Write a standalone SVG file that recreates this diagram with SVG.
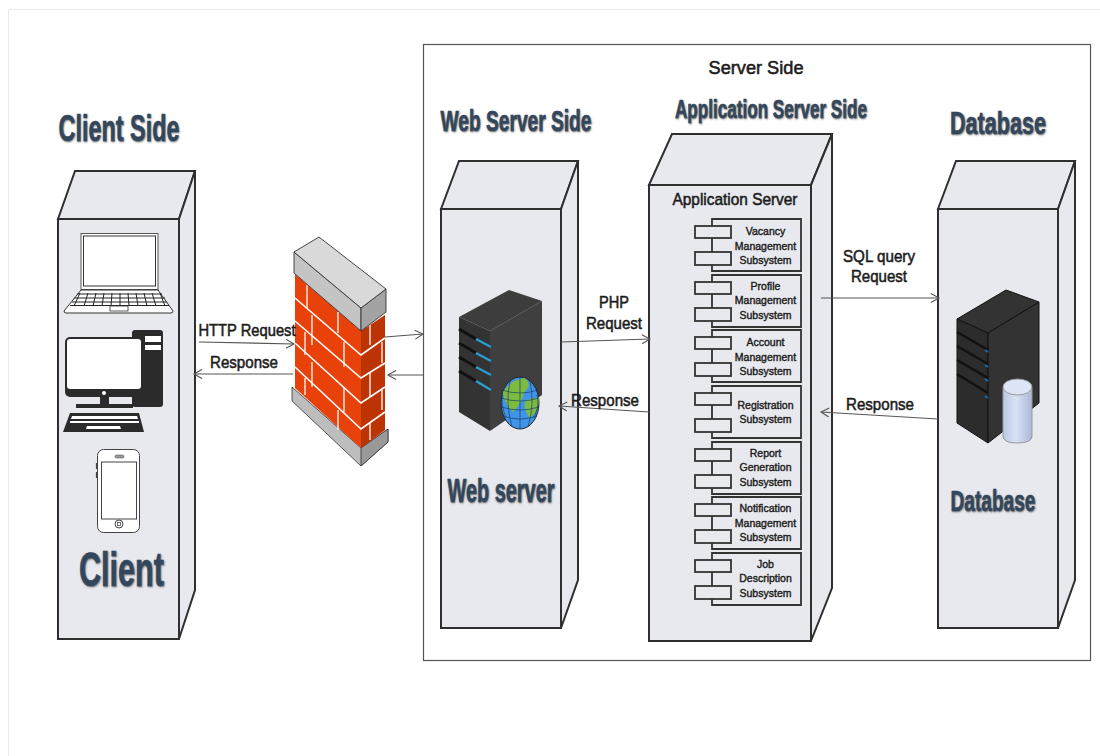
<svg xmlns="http://www.w3.org/2000/svg" width="1100" height="756" viewBox="0 0 1100 756">
<style>
text{font-family:"Liberation Sans",Arial,sans-serif;text-anchor:middle;fill:#1c1c1c}
.title{font-weight:700;fill:#33485f;stroke:#33485f;stroke-width:.6;text-shadow:1px 1px 2px rgba(60,60,60,.6)}
.lbl{font-size:17px;stroke:#1c1c1c;stroke-width:.55}
.sub{font-size:10.500px;stroke:#1c1c1c;stroke-width:.4}
.box{fill:#e8e9ee;stroke:#2f2f2f;stroke-width:2;stroke-linejoin:miter}
.comp{fill:#e8e9ee;stroke:#333;stroke-width:1.8}
.conn{fill:none;stroke:#555;stroke-width:1.2;marker-end:url(#open)}
.m{stroke:#fff;stroke-width:1.6;fill:none}
.k{stroke:#222;stroke-width:1;fill:none}
</style>
<defs>
<marker id="open" markerUnits="userSpaceOnUse" markerWidth="12" markerHeight="12" refX="9" refY="5" orient="auto">
<path d="M1 .5L9 5L1 9.5" fill="none" stroke="#555" stroke-width="1.1"/>
</marker>
<symbol id="c" overflow="visible">
<path class="comp" d="M0 0H89V52H0Z"/>
<rect class="comp" x="-17" y="7" width="36" height="12"/>
<rect class="comp" x="-17" y="33" width="36" height="13"/>
</symbol>
<linearGradient id="cyl" x1="0" x2="1" y1="0" y2="0"><stop offset="0" stop-color="#b9c8e4"/><stop offset=".45" stop-color="#d8e2f4"/><stop offset="1" stop-color="#aab8d6"/></linearGradient>
</defs>
<rect width="1100" height="756" fill="#fff"/>
<path d="M8.500 756V9.500H1100" fill="none" stroke="#e9e9e9"/>
<rect id="server-side" x="423.500" y="44.500" width="667" height="616" fill="none" stroke="#555" stroke-width="1.200"/>
<text class="lbl" x="756" y="74" font-size="18" style="font-size:18px" textLength="95" lengthAdjust="spacingAndGlyphs">Server Side</text>

<g id="client-node">
<path class="box" d="M58 219L75 171H195L179 219Z"/>
<path class="box" d="M179 219L195 171V590L179 639Z"/>
<rect class="box" x="58" y="219" width="121" height="420"/>
<text class="title" x="119" y="141" font-size="37" textLength="121" lengthAdjust="spacingAndGlyphs">Client Side</text>
<g id="laptop">
<rect x="81" y="233.500" width="77" height="56" fill="#fff" stroke="#555" stroke-width="1"/>
<rect x="83.500" y="236" width="72" height="50" fill="#fff" stroke="#333" stroke-width="1"/>
<path d="M81 290H158L173 311Q173 313 171 313H66Q64 313 64 311Z" fill="#fff" stroke="#333"/>
<path class="k" d="M77 294H162M74 298H165M72 302H167M70 305.500H169M80 293L74 306M88 293L84 306M96 293L93 306M104 293L102 306M112 293L111 306M120 293V306M128 293L129 306M136 293L138 306M144 293L147 306M152 293L156 306M160 293L165 306"/>
<rect x="110" y="306" width="18" height="5" fill="#fff" stroke="#333" stroke-width=".8"/>
</g>
<g id="desktop">
<rect x="132" y="330" width="31" height="77" rx="3" fill="#2b2b2b"/>
<rect x="145" y="336" width="16" height="6" fill="#fff"/>
<rect x="145" y="345" width="16" height="5" fill="#fff"/>
<rect x="65" y="337" width="78" height="60" rx="5" fill="#2b2b2b"/>
<rect x="67" y="339" width="74" height="50" rx="3" fill="#fff"/>
<circle cx="104" cy="393" r="2" fill="#fff"/>
<rect x="100" y="397" width="9" height="8" fill="#2b2b2b"/>
<rect x="76" y="404" width="57" height="4" fill="#2b2b2b"/>
<path d="M70 413H139L144 432H63Z" fill="#2b2b2b"/>
<path d="M72 416H137L138 419H71ZM70 421H139L139 423H70ZM87 426H120L121 429H86Z" fill="#fff"/>
</g>
<g id="phone">
<rect x="97.500" y="449.500" width="42" height="83" rx="6" fill="#fff" stroke="#444"/>
<rect x="101.500" y="462" width="35" height="57" fill="#fff" stroke="#444"/>
<rect x="115" y="455" width="9" height="3" rx="1.500" fill="#999" stroke="#444" stroke-width=".5"/>
<circle cx="119" cy="524" r="4" fill="#fff" stroke="#444"/>
<rect x="117.500" y="522.500" width="3" height="3" fill="none" stroke="#444" stroke-width=".8"/>
<path d="M96.500 463V469M96.500 472V478" stroke="#444" stroke-width="1.200"/>
</g>
<text class="title" x="121.500" y="586" font-size="48" textLength="85" lengthAdjust="spacingAndGlyphs">Client</text>
</g>

<g id="firewall">
<path d="M292 387L361 448L388 429V442L361 466L292 401Z" fill="#bdbdbd" stroke="#333" stroke-width=".8"/>
<path d="M361 448L388 429V442L361 466Z" fill="#999" stroke="#333" stroke-width=".8"/>
<path d="M295 274L361 331V448L295 388Z" fill="#e8420a"/>
<path d="M361 331L385 315V430L361 448Z" fill="#bc3403"/>
<path class="m" d="M295 298L361 355L385 338M295 321L361 378L385 363M295 343L361 403L385 387M295 367L361 429L385 412"/>
<path class="m" stroke-opacity=".8" d="M307 285V308M338 312V333M312 315V345M305 332V355M344 342V367M312 362V387M305 378V395M344 388V412M338 410V430M370 325V345M382 342V363M370 373V397M382 390V410M370 422V440"/>
<path d="M294 252L361 308V331L294 273Z" fill="#c4c4c4" stroke="#333" stroke-width=".9"/>
<path d="M361 308L386 289V312L361 331Z" fill="#a3a3a3" stroke="#333" stroke-width=".9"/>
<path d="M294 252L319 237L386 289L361 308Z" fill="#d9d9d9" stroke="#333" stroke-width=".9"/>
</g>

<g id="web-server-node">
<path class="box" d="M441 209L459 161H578L561 209Z"/>
<path class="box" d="M561 209L578 161V580L561 628Z"/>
<rect class="box" x="441" y="209" width="120" height="419"/>
<text class="title" x="516" y="131" font-size="30" textLength="151" lengthAdjust="spacingAndGlyphs">Web Server Side</text>
<g id="web-icon">
<path d="M459 317L509 290L542 301L490 331Z" fill="#3d3d3d"/>
<path d="M459 317L490 331V431L459 412Z" fill="#333"/>
<path d="M490 331L542 301V395L490 431Z" fill="#3f3f3f"/>
<path d="M459 329L476 339M459 343L476 353M459 357L476 367M459 371L476 381" stroke="#111" stroke-width="3"/>
<path d="M476 339L491 347M476 353L491 361M476 367L491 375M476 381L491 390" stroke="#2b9ad0" stroke-width="2.500"/>
<ellipse cx="520" cy="403" rx="19" ry="26" fill="#3f94e8" stroke="#222"/>
<path d="M503 392Q510 380 525 378Q533 386 524 392Q523 402 513 412Q503 402 503 392ZM526 400L539 397Q539 412 530 418Q522 408 526 400Z" fill="#7cbb3f"/>
<path d="M502 390Q520 396 538 390M501 398Q520 404 539 398M501 407Q520 413 539 407M503 416Q520 422 537 416M510 381Q505 403 512 427M520 377V429M530 381Q535 403 528 427M503 395Q500 403 506 418M537 395Q540 403 534 418" fill="none" stroke="#1d3f6b" stroke-width=".7"/>
</g>
<text class="title" x="501" y="502" font-size="33" textLength="107" lengthAdjust="spacingAndGlyphs">Web server</text>
</g>

<g id="application-server-node">
<path class="box" d="M649 185L672 134H832L811 185Z"/>
<path class="box" d="M811 185L832 134V588L811 641Z"/>
<rect class="box" x="649" y="185" width="162" height="456"/>
<text class="title" x="771" y="118" font-size="26" textLength="192" lengthAdjust="spacingAndGlyphs">Application Server Side</text>
<text class="lbl" x="735" y="205" textLength="125" lengthAdjust="spacingAndGlyphs">Application Server</text>
<g id="vacancy"><use href="#c" x="712" y="219"/><text class="sub" x="765.500" y="235">Vacancy</text><text class="sub" x="765.500" y="250">Management</text><text class="sub" x="765.500" y="264">Subsystem</text></g>
<g id="profile"><use href="#c" x="712" y="275"/><text class="sub" x="765.500" y="290">Profile</text><text class="sub" x="765.500" y="304">Management</text><text class="sub" x="765.500" y="319">Subsystem</text></g>
<g id="account"><use href="#c" x="712" y="330"/><text class="sub" x="765.500" y="346">Account</text><text class="sub" x="765.500" y="361">Management</text><text class="sub" x="765.500" y="375">Subsystem</text></g>
<g id="registration"><use href="#c" x="712" y="386"/><text class="sub" x="765.500" y="409">Registration</text><text class="sub" x="765.500" y="423">Subsystem</text></g>
<g id="report"><use href="#c" x="712" y="442"/><text class="sub" x="765.500" y="457">Report</text><text class="sub" x="765.500" y="471">Generation</text><text class="sub" x="765.500" y="486">Subsystem</text></g>
<g id="notification"><use href="#c" x="712" y="497"/><text class="sub" x="765.500" y="512">Notification</text><text class="sub" x="765.500" y="527">Management</text><text class="sub" x="765.500" y="541">Subsystem</text></g>
<g id="job"><use href="#c" x="712" y="553"/><text class="sub" x="765.500" y="568">Job</text><text class="sub" x="765.500" y="582">Description</text><text class="sub" x="765.500" y="597">Subsystem</text></g>
</g>

<g id="database-node">
<path class="box" d="M938 209L956 161H1075L1058 209Z"/>
<path class="box" d="M1058 209L1075 161V580L1058 628Z"/>
<rect class="box" x="938" y="209" width="120" height="419"/>
<text class="title" x="998" y="134" font-size="31" textLength="96" lengthAdjust="spacingAndGlyphs">Database</text>
<g id="db-icon">
<path d="M957 319L1006 290L1039 302L988 333Z" fill="#333" stroke="#111"/>
<path d="M957 319L988 333V443L957 423Z" fill="#2c2c2c" stroke="#111"/>
<path d="M988 333L1039 302V403L988 443Z" fill="#333" stroke="#111"/>
<path d="M957 332L988 350M957 346L988 364M957 360L988 378M957 374L988 393" stroke="#111" stroke-width="2.500"/>
<path d="M985 350L988 352M985 365L988 367M985 379L988 381M985 396L988 398" stroke="#1a6fb0" stroke-width="2"/>
<path d="M1003 388V436Q1003 443 1017.500 443Q1032 443 1032 436V388Z" fill="url(#cyl)" stroke="#999"/>
<ellipse cx="1017.500" cy="387" rx="14.500" ry="8" fill="#dde6f6" stroke="#999"/>
</g>
<text class="title" x="993" y="511" font-size="30" textLength="85" lengthAdjust="spacingAndGlyphs">Database</text>
</g>

<g id="connectors">
<path class="conn" d="M199 342L294 344"/>
<path class="conn" d="M293 374H194"/>
<path class="conn" d="M385 337L423 334"/>
<path class="conn" d="M423 375H388"/>
<path class="conn" d="M561 342L650 339"/>
<path class="conn" d="M649 412L559 406"/>
<path class="conn" d="M821 298H939"/>
<path class="conn" d="M938 419L821 412"/>
</g>
<g id="connector-labels">
<text class="lbl" x="247" y="336" textLength="97" lengthAdjust="spacingAndGlyphs">HTTP Request</text>
<text class="lbl" x="244" y="368" textLength="68" lengthAdjust="spacingAndGlyphs">Response</text>
<text class="lbl" x="614" y="308" textLength="30" lengthAdjust="spacingAndGlyphs">PHP</text>
<text class="lbl" x="614" y="329" textLength="56" lengthAdjust="spacingAndGlyphs">Request</text>
<text class="lbl" x="605" y="406" textLength="68" lengthAdjust="spacingAndGlyphs">Response</text>
<text class="lbl" x="879" y="262" textLength="72" lengthAdjust="spacingAndGlyphs">SQL query</text>
<text class="lbl" x="879" y="282" textLength="56" lengthAdjust="spacingAndGlyphs">Request</text>
<text class="lbl" x="880" y="410" textLength="68" lengthAdjust="spacingAndGlyphs">Response</text>
</g>
</svg>
